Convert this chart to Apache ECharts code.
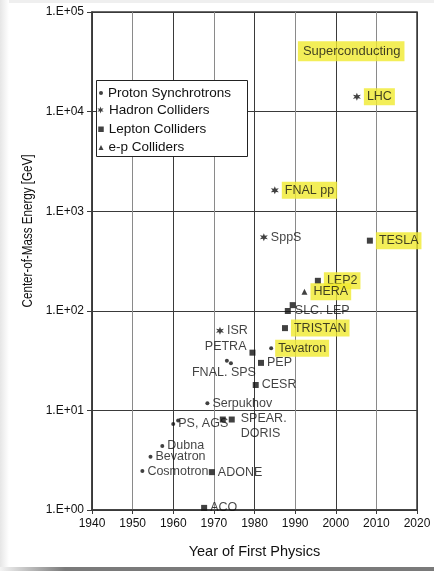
<!DOCTYPE html>
<html><head><meta charset="utf-8">
<script src="https://cdn.jsdelivr.net/npm/echarts@6/dist/echarts.min.js"></script>
<style>html,body{margin:0;padding:0;background:#fff}#c{width:434px;height:571px}</style>
</head><body><div id="c"></div>
<script>
// ---- data ----
const xTickLabels = ['1940','1950','1960','1970','1980','1990','2000','2010','2020'];
const yTickLabels = ['1.E+00','1.E+01','1.E+02','1.E+03','1.E+04','1.E+05'];

const protonNames  = ['Cosmotron','Bevatron','Dubna','PS','AGS','Serpukhov','FNAL','SPS','Tevatron'];
const protonYears  = [1952.4, 1954.4, 1957.3, 1960.0, 1961.2, 1968.4, 1973.2, 1974.2, 1984.1];
const protonEnergy = [2.46, 3.43, 4.4, 7.3, 7.9, 11.8, 31.6, 29.7, 42];
const protonLabels = ['Cosmotron','Bevatron','Dubna','PS, AGS','','Serpukhov','','FNAL. SPS','Tevatron'];

const hadronNames  = ['ISR','SppS','FNAL pp','LHC'];
const hadronYears  = [1971.5, 1982.3, 1985.0, 2005.2];
const hadronEnergy = [63, 547, 1620, 14100];
const hadronLabels = ['ISR','SppS','FNAL pp','LHC'];

const leptonNames  = ['ACO','ADONE','SPEAR','DORIS','CESR','PETRA','PEP','TRISTAN','SLC','LEP','LEP2','TESLA'];
const leptonYears  = [1967.6, 1969.5, 1972.2, 1974.4, 1980.3, 1979.5, 1981.6, 1987.5, 1988.2, 1989.4, 1995.6, 2008.4];
const leptonEnergy = [1.05, 2.4, 8.1, 8.1, 18, 38, 30, 67, 99.5, 114, 200, 506];
const leptonLabels = ['ACO','ADONE','','SPEAR.\nDORIS','CESR','PETRA','PEP','TRISTAN','SLC. LEP','','LEP2','TESLA'];

const epNames  = ['HERA'];
const epYears  = [1992.3];
const epEnergy = [155];
const epLabels = ['HERA'];

const noteText   = ['Superconducting'];
const noteYears  = [2003.8];
const noteEnergy = [40300];

const highlighted = ['Superconducting','LHC','FNAL pp','TESLA','LEP2','HERA','TRISTAN','Tevatron'];
const seriesNames = ['Proton Synchrotrons','Hadron Colliders','Lepton Colliders','e-p Colliders'];

// ---- styles ----
const FONT = '"Liberation Sans", Arial, Helvetica, sans-serif';
const INK = '#111';
const YELLOW = '#f0ea2e';
const STAR = 'path://M50,0L61.25,30.5L93.3,25L72.5,50L93.3,75L61.25,69.5L50,100L38.75,69.5L6.7,75L27.5,50L6.7,25L38.75,30.5Z';
const special = {
  'PETRA': {position:'left', distance:3, offset:[0,-6]},
  'FNAL. SPS': {position:'bottom', distance:1, offset:[-7,0]},
  'SPEAR.\nDORIS': {position:'right', distance:6, offset:[0,7], lineHeight:15},
  'SLC. LEP': {position:'right', distance:4},
  'Tevatron': {position:'right', distance:2}
};
function labelStyle(t) {
  if (!t) return {show:false};
  const s = {show:true, formatter:t, position:'right', distance:3, color:INK,
             fontSize:12.5, fontFamily:FONT};
  if (highlighted.includes(t)) { s.backgroundColor = YELLOW; s.padding = [2,3,2,3]; }
  return Object.assign(s, special[t] || {});
}
function mk(names, xs, ys, labels) {
  return names.map((n,i)=>({name:n, value:[xs[i], ys[i]], label:labelStyle(labels[i])}));
}

const chart = echarts.init(document.getElementById('c'), null, {renderer:'canvas'});
const legendRows = [91, 109.5, 128, 146];
const legendSizes = [4, 7, 5.5, 5];
const legends = seriesNames.map((n,i)=>({
  data:[n], orient:'horizontal', padding:0, z:6,
  left: 101 - legendSizes[i]/2, top: legendRows[i] - 3 - legendSizes[i]/2,
  itemWidth: legendSizes[i], itemHeight: legendSizes[i], itemGap: 0,
  textStyle:{fontSize:13.5, color:INK, fontFamily:FONT}, selectedMode:false
}));

chart.setOption({
  animation:false,
  backgroundColor:'#fff',
  grid:{left:92, right:17, top:12, bottom:61, show:true, borderColor:'#3a3a3a', borderWidth:1.5, backgroundColor:'transparent'},
  legend: legends,
  xAxis:{
    type:'value', min:1940, max:2020, interval:10,
    name:'Year of First Physics', nameLocation:'middle', nameGap:34,
    nameTextStyle:{fontSize:14.5, color:INK, fontFamily:FONT},
    axisLine:{lineStyle:{color:'#3a3a3a', width:1.5}},
    axisTick:{length:4, lineStyle:{color:'#3a3a3a'}},
    axisLabel:{margin:8, fontSize:12, color:INK, fontFamily:FONT,
      formatter:(v)=>xTickLabels[Math.round((v-1940)/10)] || ''},
    splitLine:{show:true, lineStyle:{color:['#3a3a3a','#8a8a8a'], width:1}}
  },
  yAxis:{
    type:'log', logBase:10, min:1, max:100000,
    axisLine:{lineStyle:{color:'#3a3a3a', width:1.5}},
    axisTick:{length:5, lineStyle:{color:'#3a3a3a'}},
    axisLabel:{margin:8, fontSize:12, color:INK, fontFamily:FONT,
      formatter:(v)=>yTickLabels[Math.round(Math.log10(v))] || ''},
    splitLine:{show:true, lineStyle:{color:'#3a3a3a', width:1}},
    minorTick:{show:false}
  },
  graphic:[
    {type:'rect', shape:{x:0,y:0,width:434,height:3}, style:{fill:'#efefef'}, silent:true, z:-10},
    {type:'rect', shape:{x:0,y:0,width:9,height:567}, silent:true, z:-10,
      style:{fill:new echarts.graphic.LinearGradient(0,0,1,0,[{offset:0,color:'#e6e6e6'},{offset:1,color:'#ffffff'}])}},
    {type:'rect', shape:{x:0,y:567,width:434,height:4}, silent:true, z:-10,
      style:{fill:new echarts.graphic.LinearGradient(0,0,1,0,[{offset:0,color:'#f4f4f4'},{offset:0.15,color:'#7a7a7a'},{offset:1,color:'#7a7a7a'}])}},
    {type:'rect', shape:{x:96.5,y:80.5,width:151,height:76}, style:{fill:'#fff', stroke:'#222', lineWidth:1}, z:3},
    {type:'text', x:28, y:231, rotation:Math.PI/2, scaleX:0.8, z:5,
      style:{text:'Center-of-Mass Energy [GeV]', fontSize:14.5, fontFamily:FONT, fill:INK, align:'center', verticalAlign:'middle'}}
  ],
  series:[
    {name:seriesNames[0], type:'scatter', symbol:'circle', symbolSize:4, itemStyle:{color:'#111'}, z:10,
      data:mk(protonNames, protonYears, protonEnergy, protonLabels)},
    {name:seriesNames[1], type:'scatter', symbol:STAR, symbolSize:8, itemStyle:{color:'#111'}, z:10,
      data:mk(hadronNames, hadronYears, hadronEnergy, hadronLabels)},
    {name:seriesNames[2], type:'scatter', symbol:'rect', symbolSize:6, itemStyle:{color:'#111'}, z:10,
      data:mk(leptonNames, leptonYears, leptonEnergy, leptonLabels)},
    {name:seriesNames[3], type:'scatter', symbol:'triangle', symbolSize:6, itemStyle:{color:'#111'}, z:10,
      data:mk(epNames, epYears, epEnergy, epLabels)},
    {name:'note', type:'scatter', symbolSize:1, itemStyle:{color:'rgba(0,0,0,0)'}, z:10, silent:true,
      data:noteText.map((t,i)=>({name:t, value:[noteYears[i], noteEnergy[i]],
        label:{show:true, formatter:t, position:'inside', color:INK, fontSize:13, fontFamily:FONT,
               backgroundColor:YELLOW, padding:[4,4,3,5]}}))}
  ]
});
</script>
</body></html>
